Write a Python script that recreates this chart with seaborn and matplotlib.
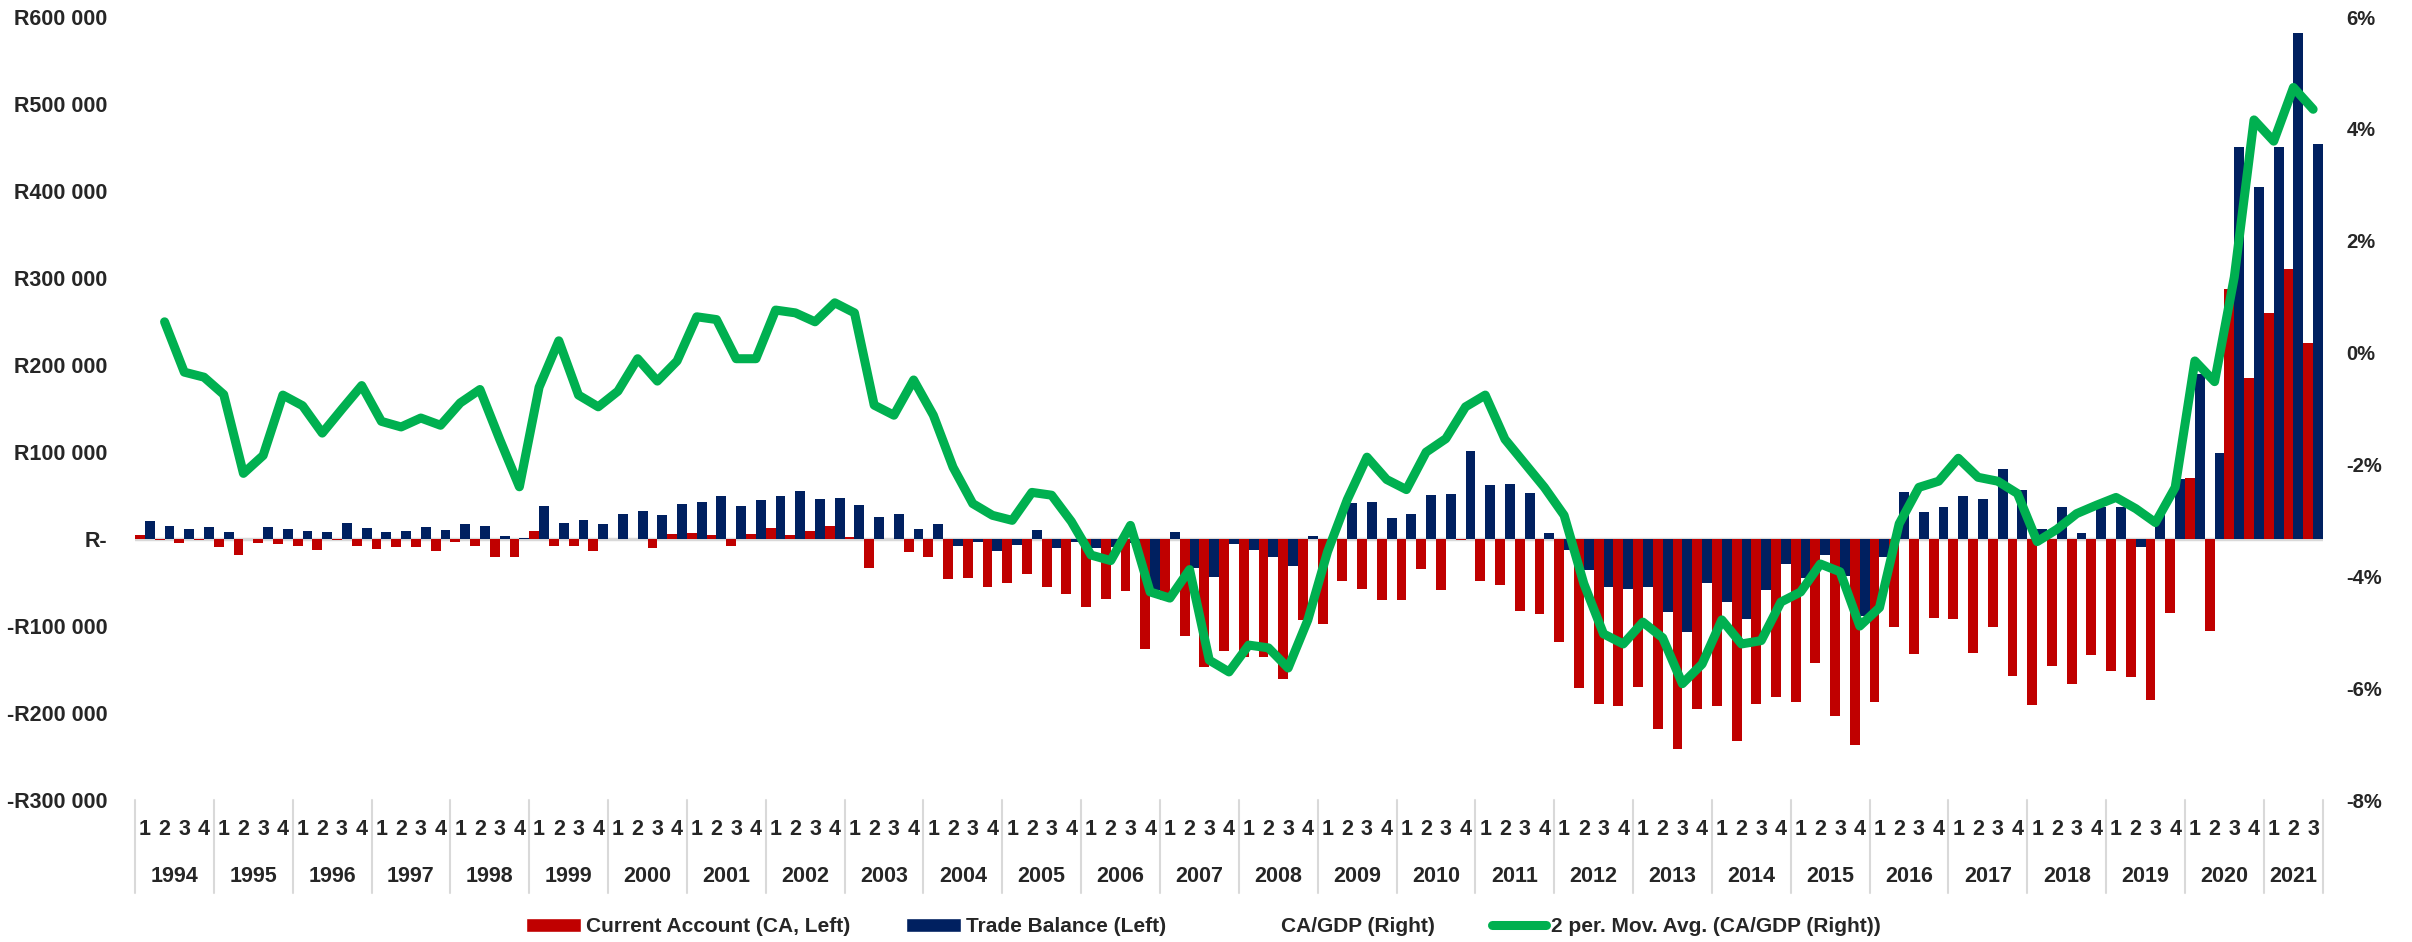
import numpy as np
import pandas as pd
import seaborn as sns
import matplotlib.pyplot as plt
import matplotlib.transforms as mtransforms
from matplotlib.lines import Line2D
from matplotlib.patches import Patch

# quarterly data, 1994Q1 - 2021Q3
years = list(range(1994, 2022))
quarter_labels = ["1", "2", "3", "4"] * 27 + ["1", "2", "3"]

current_account = [
    5000, -1000, -4600, -1000, -8800, -18900, -5100, -5500, -8300, -12900,
    -1000, -7800, -11500, -9700, -8800, -13400, -3700, -7800, -20500, -21200,
    9700, -8300, -7800, -13400, -500, -500, -10200, 5500, 6500, 4600,
    -8300, 5500, 12500, 4200, 9200, 14800, 2800, -33200, -500, -15200,
    -21200, -45700, -44300, -54900, -50300, -39700, -54900, -62800, -78500, -69200,
    -59500, -126500, -70200, -111700, -147700, -128800, -135700, -135700, -160600, -93200,
    -97900, -48000, -57200, -70600, -70600, -34600, -58600, -1000, -48500, -52600,
    -82200, -86300, -118600, -171700, -189300, -192000, -170300, -218800, -241900, -195300,
    -192000, -232200, -190200, -181900, -187400, -142200, -203100, -236800, -187400, -101600,
    -132500, -90900, -92300, -131600, -101600, -157400, -191100, -146300, -167100, -133400,
    -151900, -158800, -185600, -84900, 70600, -106200, 287600, 185600, 260300, 310200,
    225700,
]

trade_balance = [
    20800, 14800, 11500, 13400, 7800, 500, 14300, 12000, 9700, 7800,
    18000, 12500, 7800, 9200, 13400, 10200, 17100, 14800, 3700, 1400,
    37400, 18900, 22200, 17100, 28600, 31900, 27200, 40200, 42500, 49400,
    38300, 44800, 48900, 55400, 46200, 47100, 38800, 25800, 28200, 11500,
    17100, -7800, -3200, -13400, -6900, 10200, -10200, -3200, -10200, -9000,
    -5000, -58600, 8300, -33200, -43900, -5500, -12500, -20300, -30900, 3200,
    1500, 41100, 42500, 24000, 28200, 50300, 52200, 101600, 61900, 63700,
    52600, 7400, -12500, -35500, -55400, -57200, -55400, -84000, -106600, -50300,
    -72900, -91400, -58600, -28600, -45000, -18500, -42000, -88600, -20800, 53500,
    30500, 36500, 49700, 45700, 79900, 56800, 12000, 36500, 7400, 36500,
    36500, -8700, 28000, 69000, 190000, 98300, 450100, 405000, 450100, 581500,
    454300,
]

# 2 period moving average of CA/GDP, %
ca_gdp_ma = [
    np.nan, 0.55, -0.35, -0.44, -0.75, -2.16, -1.84, -0.76, -0.95, -1.44,
    -1.01, -0.59, -1.23, -1.33, -1.17, -1.30, -0.90, -0.66, -1.55, -2.40,
    -0.62, 0.21, -0.76, -0.97, -0.69, -0.11, -0.51, -0.15, 0.64, 0.59,
    -0.11, -0.11, 0.76, 0.71, 0.55, 0.89, 0.71, -0.94, -1.12, -0.49,
    -1.12, -2.05, -2.70, -2.91, -3.00, -2.50, -2.55, -3.02, -3.62, -3.72,
    -3.09, -4.28, -4.39, -3.88, -5.50, -5.71, -5.23, -5.28, -5.64, -4.78,
    -3.56, -2.63, -1.87, -2.27, -2.45, -1.78, -1.54, -0.97, -0.76, -1.55,
    -1.98, -2.41, -2.91, -4.13, -5.03, -5.21, -4.82, -5.10, -5.92, -5.57,
    -4.78, -5.21, -5.15, -4.46, -4.28, -3.78, -3.92, -4.89, -4.56, -3.06,
    -2.41, -2.30, -1.89, -2.23, -2.30, -2.52, -3.38, -3.16, -2.88, -2.73,
    -2.59, -2.79, -3.04, -2.41, -0.15, -0.52, 1.35, 4.16, 3.78, 4.74,
    4.35,
]

RED = "#c00000"
NAVY = "#002060"
GREEN = "#00b050"
GREY = "#d9d9d9"

sns.set_style("white")
plt.rcParams["font.family"] = ["Liberation Sans", "DejaVu Sans"]
plt.rcParams["font.weight"] = "bold"

n = len(current_account)
df = pd.DataFrame({
    "q": list(range(n)) * 2,
    "value": current_account + trade_balance,
    "series": ["Current Account (CA, Left)"] * n + ["Trade Balance (Left)"] * n,
})

fig = plt.figure(figsize=(24.12, 9.42), dpi=100)
ax = fig.add_axes([135 / 2412, 1 - 800 / 942, (2323 - 135) / 2412, 783 / 942])

ax.axhline(0, color=GREY, lw=2.5, zorder=0)
sns.barplot(data=df, x="q", y="value", hue="series", palette=[RED, NAVY],
            width=1.0, gap=0, saturation=1, errorbar=None, linewidth=0,
            legend=False, ax=ax)

ax2 = ax.twinx()
sns.lineplot(x=list(range(n)), y=ca_gdp_ma, ax=ax2, color=GREEN, linewidth=6.5,
             solid_capstyle="round", solid_joinstyle="round")

ax.set_xlim(-0.5, n - 0.5)
ax.set_ylim(-300000, 600000)
ax2.set_ylim(-8, 6)

left_ticks = list(range(-300000, 600001, 100000))
def rand_fmt(v):
    if v == 0:
        return "R-"
    s = f"R{abs(v):,.0f}".replace(",", " ")
    return "-" + s if v < 0 else s
ax.set_yticks(left_ticks)
ax.set_yticklabels([rand_fmt(v) for v in left_ticks], fontsize=15.5, fontweight="bold")
ax2.set_yticks(list(range(-8, 7, 2)))
ax2.set_yticklabels([f"{v}%" for v in range(-8, 7, 2)], fontsize=14.5, fontweight="bold")
ax.tick_params(axis="y", length=0, pad=20)
ax2.tick_params(axis="y", length=0, pad=17)

ax.set_xticks(list(range(n)))
ax.set_xticklabels(quarter_labels, fontsize=15.5, fontweight="bold")
ax.tick_params(axis="x", length=0, pad=14)
ax.set_xlabel("")
ax.set_ylabel("")
ax2.set_ylabel("")

for a in (ax, ax2):
    for sp in a.spines.values():
        sp.set_visible(False)

# year labels and separators under the axis
trans = mtransforms.blended_transform_factory(ax.transData, ax.transAxes)
for k, yr in enumerate(years):
    nq = min(4, n - 4 * k)
    ax.text(4 * k + (nq - 1) / 2, -0.098, str(yr), transform=trans,
            ha="center", va="center", fontsize=15.5, fontweight="bold")
for xb in [4 * k - 0.5 for k in range(28)] + [n - 0.5]:
    ax.plot([xb, xb], [0, -0.119], transform=trans, color=GREY, lw=1.5,
            clip_on=False)

handles = [
    Patch(facecolor=RED),
    Patch(facecolor=NAVY),
    Line2D([], [], color="none"),
    Line2D([], [], color=GREEN, lw=6.5),
]
labels = ["Current Account (CA, Left)", "Trade Balance (Left)",
          "CA/GDP (Right)", "2 per. Mov. Avg. (CA/GDP (Right))"]
fig.legend(handles, labels, loc="center", bbox_to_anchor=(0.499, 0.016), ncol=4,
           frameon=False, fontsize=15, handlelength=2.6, handleheight=0.7,
           handletextpad=0.25, columnspacing=2.7)

fig.savefig("out.png", dpi=100)
